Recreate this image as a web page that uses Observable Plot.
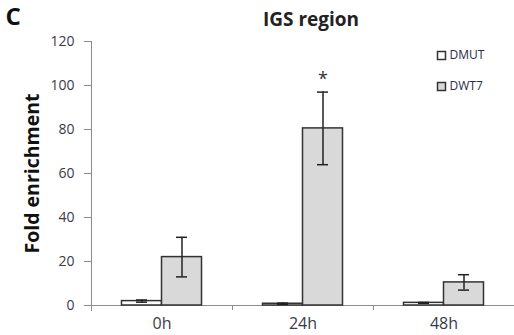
<!DOCTYPE html>
<html>
<head>
<meta charset="utf-8">
<script src="https://cdn.jsdelivr.net/npm/d3@7"></script>
<script src="https://cdn.jsdelivr.net/npm/@observablehq/plot@0.6"></script>
<style>
  html, body { margin: 0; padding: 0; background: #fff; }
</style>
</head>
<body>
<div id="chart"></div>
<script>
const times = ["0h", "24h", "48h"];
const series = ["DMUT", "DWT7"];
const dmutValues = [2, 0.8, 1.2];
const dmutErrors = [0.5, 0.3, 0.2];
const dwt7Values = [22, 80.5, 10.5];
const dwt7Errors = [9, 16.5, 3.5];
const yTicks = [0, 20, 40, 60, 80, 100, 120];
const significant = [{time: "24h", series: "DWT7", label: "*"}];

const rows = [];
times.forEach((t, i) => {
  rows.push({time: t, series: "DMUT", value: dmutValues[i], err: dmutErrors[i]});
  rows.push({time: t, series: "DWT7", value: dwt7Values[i], err: dwt7Errors[i]});
});
const dmut = rows.filter(d => d.series === "DMUT");
const dwt7 = rows.filter(d => d.series === "DWT7");
const sigRows = significant.map(s => {
  const r = rows.find(d => d.time === s.time && d.series === s.series);
  return {...s, y: r.value + r.err};
});

const font = "'Open Sans', sans-serif";
const fills = {DMUT: "#ffffff", DWT7: "#d9d9d9"};
const barStroke = "#333";
const axisColor = "#8c8c8c";
const labelColor = "#3a3a4a";

// band step = 141px; bars 40px wide, group 80px centred
const offL = {DMUT: [30.5, 70.5], DWT7: [70.5, 30.5]};
const dxC = {DMUT: -20, DWT7: 20};

function barsFor(data, s) {
  return Plot.barY(data, {
    x: "time", y: "value", fill: fills[s], stroke: barStroke, strokeWidth: 1.5,
    insetLeft: offL[s][0], insetRight: offL[s][1]
  });
}
function errFor(data, s) {
  const capOpts = {x: "time", stroke: "#222", strokeWidth: 1.5,
    insetLeft: offL[s][0] + 14.5, insetRight: offL[s][1] + 14.5};
  return [
    Plot.ruleX(data, {x: "time", y1: d => d.value - d.err, y2: d => d.value + d.err,
      dx: dxC[s], stroke: "#222", strokeWidth: 1.5}),
    Plot.tickY(data, {...capOpts, y: d => d.value + d.err}),
    Plot.tickY(data, {...capOpts, y: d => d.value - d.err})
  ];
}
function legendItem(s, i) {
  const dy = 14 + i * 31;
  return [
    Plot.dot([s], {frameAnchor: "top-right", dx: -73, dy, symbol: "square",
      r: 4.5, fill: fills[s], stroke: "#333", strokeWidth: 1.5}),
    Plot.text([s], {frameAnchor: "top-right", dx: -65, dy, text: d => d,
      textAnchor: "start", lineAnchor: "middle", fontSize: 12, fill: "#2a2a4a"})
  ];
}

const chart = Plot.plot({
  width: 514,
  height: 335,
  marginLeft: 91,
  marginRight: 0,
  marginTop: 41,
  marginBottom: 30,
  style: {fontFamily: font, background: "#fff"},
  x: {domain: times, padding: 0, axis: null},
  y: {domain: [0, 120], axis: null},
  marks: [
    // axes
    Plot.axisY({ticks: yTicks, tickSize: 7, tickPadding: 10, stroke: axisColor, fill: labelColor,
      fontSize: 14, label: null, tickFormat: d => d}),
    Plot.frame({anchor: "left", stroke: axisColor, insetBottom: -5}),
    Plot.ruleY([0], {stroke: axisColor}),
    Plot.ruleX(times, {x: d => d, y1: 0, y2: 0, insetBottom: -5, dx: 70.5, stroke: axisColor}),
    Plot.axisX({tickSize: 0, tickPadding: 12, fill: labelColor, fontSize: 16, label: null}),
    // bars
    barsFor(dmut, "DMUT"),
    barsFor(dwt7, "DWT7"),
    errFor(dmut, "DMUT"),
    errFor(dwt7, "DWT7"),
    // significance
    Plot.text(sigRows, {x: "time", y: "y", text: "label", dx: 20, dy: -13, fontSize: 18,
      fill: "#333", lineAnchor: "middle"}),
    // title, panel letter, y label
    Plot.text(["IGS region"], {frameAnchor: "top", dx: 8, dy: -22, fontSize: 19,
      fontWeight: "bold", fill: "#222", lineAnchor: "middle"}),
    Plot.text(["C"], {frameAnchor: "top-left", dx: -86, dy: -24, fontSize: 24,
      fontWeight: "bold", fill: "#111", textAnchor: "start", lineAnchor: "middle"}),
    Plot.text(["Fold enrichment"], {frameAnchor: "left", dx: -59, rotate: -90, fontSize: 19.5,
      fontWeight: "bold", fill: "#111", textAnchor: "middle", lineAnchor: "middle"}),
    // legend
    ...series.map(legendItem)
  ]
});
document.getElementById("chart").appendChild(chart);
</script>
</body>
</html>
